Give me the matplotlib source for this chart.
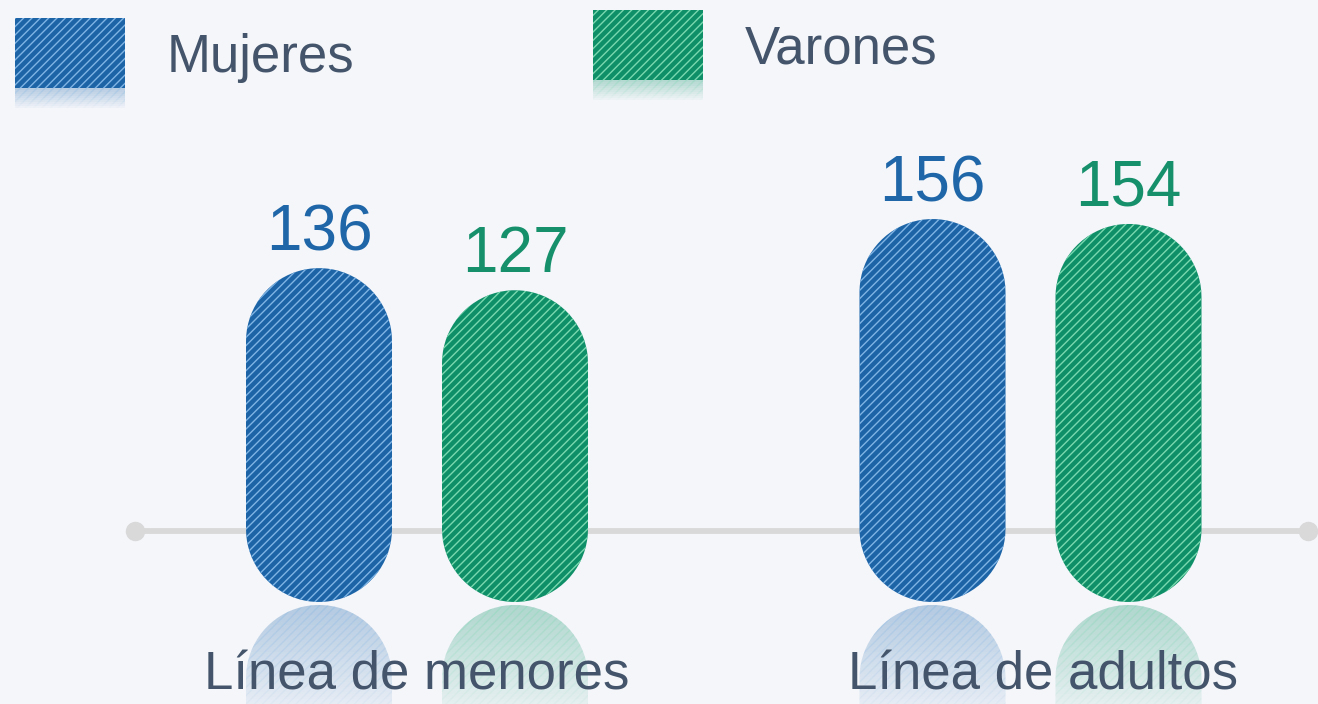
import numpy as np
import matplotlib
matplotlib.use("Agg")
import matplotlib.pyplot as plt
import matplotlib.transforms as mtransforms
from matplotlib.path import Path
from matplotlib.patches import PathPatch, Rectangle

# data
categories = ["Línea de menores", "Línea de adultos"]
series_names = ["Mujeres", "Varones"]
mujeres = [136, 156]
varones = [127, 154]

plt.rcParams['font.family'] = ['Liberation Sans', 'DejaVu Sans']
plt.rcParams['hatch.linewidth'] = 1.0

W, H = 1318, 704
BG = "#f4f6fa"
TXT = "#44546a"
colors = ["#1d64a7", "#0f8f67"]
hatch_colors = ["#7fb4e4", "#79d8b0"]
label_colors = ["#1f66a8", "#16906a"]

fig = plt.figure(figsize=(W / 100, H / 100), dpi=100, facecolor=BG)
ax = fig.add_axes([0, 0, 1, 1])
ax.set_facecolor(BG)
ax.axis("off")

# scales: value 0 sits at pixel row 602, 2.455 px per unit
px_per_val = 2.455
ax.set_ylim(-(H - 602) / px_per_val, 602 / px_per_val)
group_px = [417.0, 1030.5]
unit_px = group_px[1] - group_px[0]
ax.set_xlim(-group_px[0] / unit_px, (W - group_px[0]) / unit_px)

# pixel transform (origin top-left) for decorations
pix = mtransforms.Affine2D().scale(1 / W, -1 / H).translate(0, 1) + ax.transAxes

bar_w_px = 146
offset_px = 98
bw = bar_w_px / unit_px
rx = bw / 2
ry = (bar_w_px / 2) / px_per_val


def stadium(cx, v, flip=False):
    t1 = np.linspace(np.pi, 2 * np.pi, 40)
    t2 = np.linspace(0, np.pi, 40)
    bottom = np.column_stack([cx + rx * np.cos(t1), ry + ry * np.sin(t1)])
    top = np.column_stack([cx + rx * np.cos(t2), v - ry + ry * np.sin(t2)])
    pts = np.vstack([bottom, top, bottom[:1]])
    if flip:
        pts[:, 1] = -pts[:, 1] - 1.2
    codes = [Path.MOVETO] + [Path.LINETO] * (len(pts) - 2) + [Path.CLOSEPOLY]
    return Path(pts, codes)


# axis line with end dots
ax.plot([135, 1308], [531, 531], color="#d9d9d9", lw=4.2, transform=pix,
        solid_capstyle="round", zorder=1)
ax.plot([135, 1308], [531, 531], "o", color="#d9d9d9", ms=13, transform=pix,
        zorder=1)

n_strips = 40
for s, vals in enumerate([mujeres, varones]):
    for g, v in enumerate(vals):
        cx = g + (2 * s - 1) * offset_px / unit_px
        p = PathPatch(stadium(cx, v), facecolor=colors[s],
                      edgecolor=hatch_colors[s], hatch="////", lw=0, zorder=3)
        ax.add_patch(p)
        # fading reflection
        y0 = -1.2
        y1 = ax.get_ylim()[0]
        edges = np.linspace(y0, y1, n_strips + 1)
        for i in range(n_strips):
            a = 0.24 * (1 - i / n_strips) + 0.06
            rp = PathPatch(stadium(cx, v, flip=True), facecolor=colors[s],
                           edgecolor=hatch_colors[s], hatch="////", lw=0,
                           alpha=a, zorder=2)
            ax.add_patch(rp)
            clip = Rectangle((cx - rx - 0.01, edges[i + 1]), bw + 0.02,
                             edges[i] - edges[i + 1], transform=ax.transData)
            rp.set_clip_path(clip)
        ax.text(cx, v + 18 / px_per_val, str(v), ha="center", va="baseline",
                fontsize=46, color=label_colors[s], zorder=5)

label_shift_px = [0, 13]
for g, cat in enumerate(categories):
    ax.text(g + label_shift_px[g] / unit_px, -(690 - 602) / px_per_val, cat,
            ha="center", va="baseline", fontsize=38, color=TXT, zorder=6)

# legend
leg_boxes = [(15, 18), (593, 10)]
leg_text = [(167, 72), (745, 63)]
for s, name in enumerate(series_names):
    x0, y0 = leg_boxes[s]
    ax.add_patch(Rectangle((x0, y0), 110, 70, transform=pix, facecolor=colors[s],
                           edgecolor=hatch_colors[s], hatch="////", lw=0, zorder=3))
    for i in range(10):
        ax.add_patch(Rectangle((x0, y0 + 70 + 2 * i), 110, 2, transform=pix,
                               facecolor=colors[s], edgecolor=hatch_colors[s],
                               hatch="////", lw=0, alpha=0.28 * (1 - i / 10),
                               zorder=2))
    ax.text(leg_text[s][0], leg_text[s][1], name, transform=pix, ha="left",
            va="baseline", fontsize=38, color=TXT)

fig.savefig("out.png", dpi=100, facecolor=BG)
